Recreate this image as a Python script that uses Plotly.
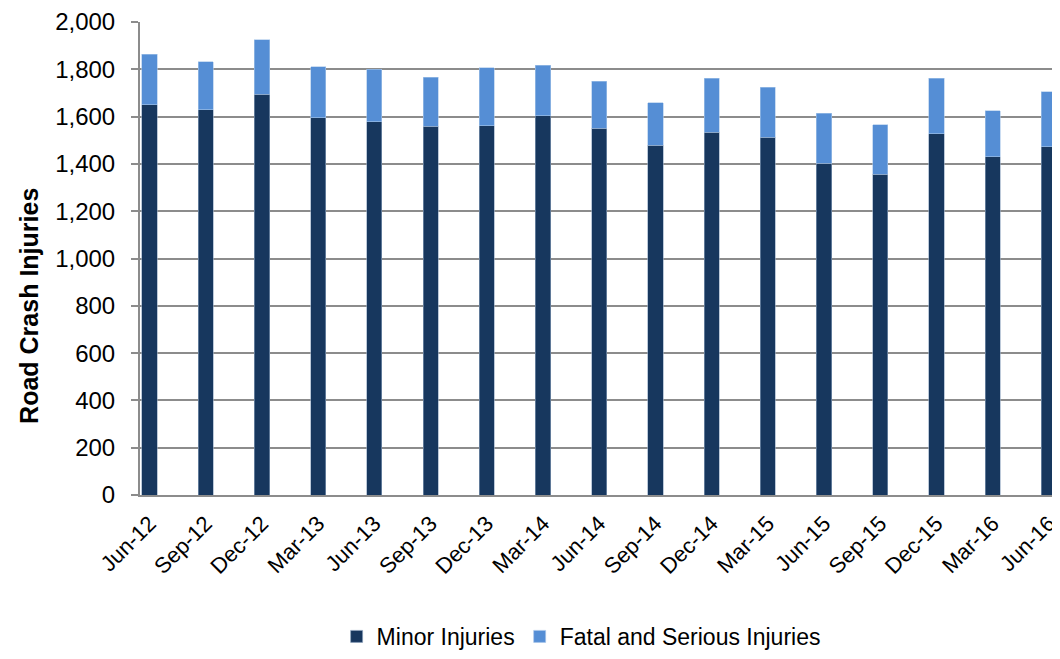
import plotly.graph_objects as go

categories = ["Jun-12", "Sep-12", "Dec-12", "Mar-13", "Jun-13", "Sep-13", "Dec-13", "Mar-14",
              "Jun-14", "Sep-14", "Dec-14", "Mar-15", "Jun-15", "Sep-15", "Dec-15", "Mar-16", "Jun-16"]
minor_injuries = [1650, 1629, 1694, 1596, 1578, 1559, 1562, 1603, 1551, 1479, 1534, 1513, 1402, 1356, 1528, 1430, 1472]
fatal_serious = [214, 204, 232, 215, 223, 208, 244, 215, 199, 180, 229, 211, 212, 209, 235, 194, 233]

font_family = "Liberation Sans, Arial, sans-serif"

fig = go.Figure()
fig.add_trace(go.Bar(
    x=categories, y=minor_injuries, name="Minor Injuries",
    marker=dict(color="#17375E", line=dict(color="#8fa5c0", width=0.6)),
))
fig.add_trace(go.Bar(
    x=categories, y=fatal_serious, name="Fatal and Serious Injuries",
    marker=dict(color="#558ED5", line=dict(color="#a9c6ea", width=0.6)),
))

fig.update_layout(
    barmode="stack",
    bargap=0.73,
    width=1052, height=651,
    margin=dict(l=132, r=0, t=12, b=164),
    paper_bgcolor="white", plot_bgcolor="white",
    font=dict(family=font_family, size=22, color="black"),
    showlegend=True,
    legend=dict(orientation="h", x=0.48, xanchor="center", y=-0.299, yanchor="middle",
                font=dict(size=23), traceorder="normal", itemwidth=30),
    xaxis=dict(
        type="category", range=[-0.17, 16.18], tickangle=-45,
        showline=True, linecolor="#8c8c8c", linewidth=2,
        ticks="", tickfont=dict(size=22), showgrid=False,
        ticklabelstandoff=5, ticklabeloverflow="allow",
    ),
    yaxis=dict(
        range=[0, 2000], dtick=200, tickformat=",d",
        showgrid=True, gridcolor="#8c8c8c", gridwidth=2,
        showline=True, linecolor="#8c8c8c", linewidth=2,
        ticks="outside", ticklen=7, tickcolor="#8c8c8c", tickwidth=2,
        tickfont=dict(size=24), zeroline=False,
        ticklabelstandoff=11, ticklabeloverflow="allow",
    ),
    annotations=[dict(
        text="<b>Road Crash Injuries</b>", textangle=-90,
        xref="paper", yref="paper", x=-0.1207, y=0.4,
        xanchor="center", yanchor="middle", showarrow=False,
        font=dict(size=25, family=font_family, color="black"),
    )],
)

fig.write_html("out.html")
